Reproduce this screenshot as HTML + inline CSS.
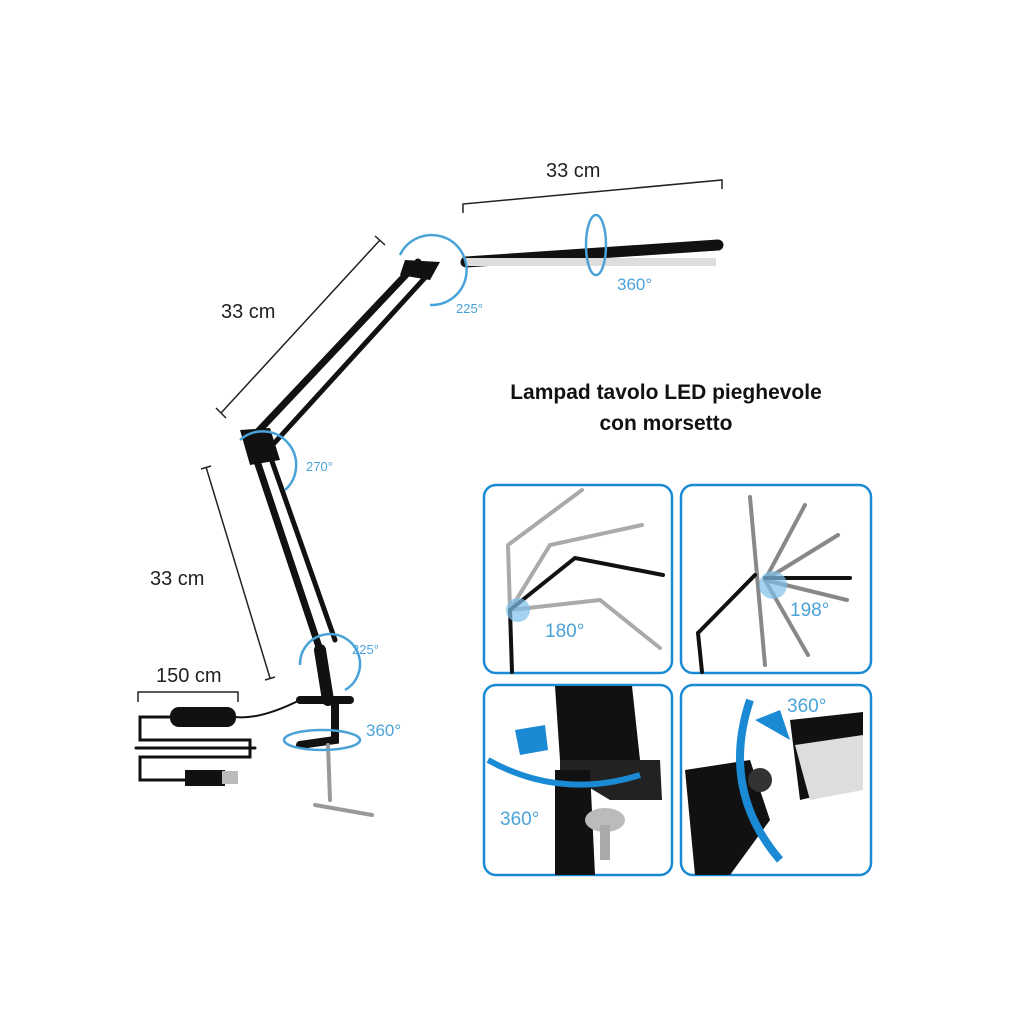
<!DOCTYPE html>
<html><head><meta charset="utf-8"><style>
html,body{margin:0;padding:0;background:#fff}
svg{display:block}
text{font-family:"Liberation Sans",sans-serif}
</style></head><body>
<svg width="1024" height="1024" viewBox="0 0 1024 1024" xmlns="http://www.w3.org/2000/svg">
<rect width="1024" height="1024" fill="#fff"/>
<!-- dimension lines -->
<g stroke="#222" stroke-width="1.5" fill="none">
<path d="M463 213 L463 204 L722 180 L722 189"/>
<path d="M221 413 L380 240 M216 408 L226 418 M375 236 L385 245"/>
<path d="M270 678 L206 467 M201 469 L211 466 M265 680 L275 677"/>
<path d="M138 702 L138 692 L238 692 L238 702"/>
</g>
<g fill="#222" font-size="20">
<text x="546" y="177">33 cm</text>
<text x="221" y="318">33 cm</text>
<text x="150" y="585">33 cm</text>
<text x="156" y="682">150 cm</text>
</g>
<!-- lamp arms -->
<g stroke="#111" stroke-linecap="round" fill="none">
<path d="M466 262 L718 245" stroke-width="11"/>
<path d="M418 262 L250 440" stroke-width="7"/>
<path d="M432 270 L268 450" stroke-width="5"/>
<path d="M250 440 L320 650" stroke-width="7"/>
<path d="M268 450 L335 640" stroke-width="5"/>
<path d="M320 650 L328 700" stroke-width="12"/>
<path d="M300 700 L350 700" stroke-width="8"/>
<path d="M335 700 L335 740 L300 745" stroke-width="8"/>
<path d="M328 745 L330 800" stroke="#999" stroke-width="4"/>
<path d="M315 805 L372 815" stroke="#999" stroke-width="4"/>
<path d="M300 700 Q260 720 235 717" stroke-width="2"/>
<path d="M170 717 L140 717 L140 740 L250 740 L250 757 L140 757 L140 780 L185 780" stroke-width="3"/>
<path d="M136 748 L255 748" stroke-width="3"/>
</g>
<rect x="466" y="258" width="250" height="8" fill="#ddd"/>
<rect x="170" y="707" width="66" height="20" rx="9" fill="#111"/>
<rect x="185" y="770" width="40" height="16" fill="#111"/>
<rect x="222" y="771" width="16" height="13" fill="#bbb"/>
<polygon points="405,260 440,262 430,280 400,275" fill="#111"/>
<polygon points="240,430 270,428 280,460 250,465" fill="#111"/>
<!-- blue rotation arcs -->
<g stroke="#4aa3d8" stroke-width="2.5" fill="none">
<path d="M400 255 A35 35 0 1 1 430 305"/>
<path d="M240 440 A30 30 0 1 1 285 490"/>
<path d="M300 665 A30 30 0 1 1 345 690"/>
<ellipse cx="322" cy="740" rx="38" ry="10"/>
<ellipse cx="596" cy="245" rx="10" ry="30"/>
</g>
<g fill="#4aa3d8" font-size="17">
<text x="617" y="290">360°</text>
<text x="366" y="736">360°</text>
<text x="456" y="313" font-size="13">225°</text>
<text x="306" y="471" font-size="13">270°</text>
<text x="352" y="654" font-size="13">225°</text>
</g>
<text x="666" y="399" text-anchor="middle" font-size="21" font-weight="bold" fill="#111">Lampad tavolo LED pieghevole</text>
<text x="666" y="430" text-anchor="middle" font-size="21" font-weight="bold" fill="#111">con morsetto</text>
<!-- panels -->
<g fill="none" stroke="#1a8ad4" stroke-width="2.5">
<rect x="484" y="485" width="188" height="188" rx="12"/>
<rect x="681" y="485" width="190" height="188" rx="12"/>
<rect x="484" y="685" width="188" height="190" rx="12"/>
<rect x="681" y="685" width="190" height="190" rx="12"/>
</g>
<!-- panel 1 -->
<g stroke-linecap="round" fill="none">
<path d="M510 610 L508 545 L582 490" stroke="#aaa" stroke-width="4"/>
<path d="M510 610 L550 545 L642 525" stroke="#aaa" stroke-width="4"/>
<path d="M510 610 L600 600 L660 648" stroke="#aaa" stroke-width="4"/>
<path d="M510 610 L575 558 L663 575" stroke="#111" stroke-width="4"/>
<path d="M510 610 L512 672" stroke="#111" stroke-width="4"/>
</g>
<circle cx="518" cy="610" r="12" fill="#7cc0ea" opacity=".7"/>
<text x="545" y="637" font-size="19" fill="#4aa3d8">180°</text>
<!-- panel 2 -->
<g stroke-linecap="round" fill="none" stroke="#888" stroke-width="4">
<path d="M750 497 L765 665"/><path d="M765 580 L805 505"/><path d="M765 580 L838 535"/>
<path d="M765 580 L847 600"/><path d="M765 580 L808 655"/>
<path d="M765 578 L850 578" stroke="#111"/>
<path d="M698 633 L755 575 M698 633 L702 672" stroke="#111"/>
</g>
<circle cx="773" cy="585" r="14" fill="#7cc0ea" opacity=".7"/>
<text x="790" y="616" font-size="19" fill="#4aa3d8">198°</text>
<!-- panel 3 -->
<polygon points="555,686 632,686 640,760 620,780 560,760" fill="#111"/>
<polygon points="560,760 660,760 662,800 610,800 560,770" fill="#222"/>
<path d="M555 770 L590 770 L595 875 L555 875 Z" fill="#111"/>
<ellipse cx="605" cy="820" rx="20" ry="12" fill="#bbb"/>
<rect x="600" y="825" width="10" height="35" fill="#aaa"/>
<path d="M488 760 Q560 800 640 775" stroke="#1a8ad4" stroke-width="6" fill="none"/>
<polygon points="515,730 545,725 548,750 520,755" fill="#1a8ad4"/>
<text x="500" y="825" font-size="19" fill="#4aa3d8">360°</text>
<!-- panel 4 -->
<polygon points="790,720 863,712 863,785 800,800" fill="#111"/>
<polygon points="795,745 863,735 863,790 810,800" fill="#ddd"/>
<path d="M685 770 L750 760 L770 820 L730 875 L695 875 Z" fill="#111"/>
<circle cx="760" cy="780" r="12" fill="#333"/>
<path d="M750 700 Q720 790 780 860" stroke="#1a8ad4" stroke-width="8" fill="none"/>
<polygon points="755,720 780,710 790,740" fill="#1a8ad4"/>
<text x="787" y="712" font-size="19" fill="#4aa3d8">360°</text>
</svg>
</body></html>
